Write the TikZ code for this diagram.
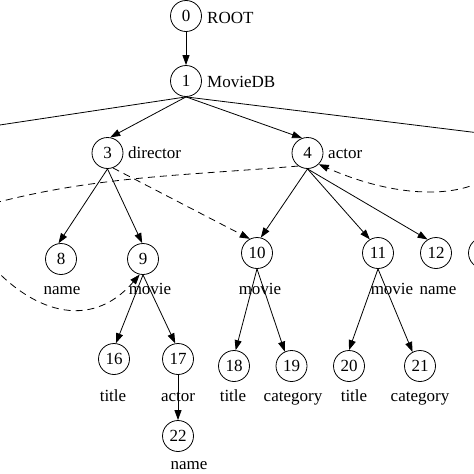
\documentclass[tikz,border=0pt]{standalone}
\usepackage{fontspec}
\setmainfont{Liberation Serif}
\usetikzlibrary{arrows.meta}

\begin{document}
\begin{tikzpicture}[x=1pt,y=-1pt,
        vtx/.style={circle,draw,line width=0.8pt,minimum size=31pt,inner sep=0pt,font=\fontsize{17}{20}\selectfont},
        lbl/.style={inner sep=0pt,font=\fontsize{17}{20}\selectfont},
        link/.style={line width=0.8pt,-{Stealth[length=10pt,width=7pt,inset=0pt]}},
        stub/.style={line width=0.8pt},
        idref/.style={link,dash pattern=on 7pt off 5pt}]
    \useasboundingbox (0,0) rectangle (474,474);
    \clip (0,0) rectangle (474,474);

    % element nodes
    \node[vtx] (n0)  at (186,16)  {0};
    \node[vtx] (n1)  at (186,81)  {1};
    \node[vtx] (n3)  at (107.5,153) {3};
    \node[vtx] (n4)  at (307.5,153) {4};
    \node[vtx] (n8)  at (61,259)  {8};
    \node[vtx] (n9)  at (143,259) {9};
    \node[vtx] (n10) at (257,253) {10};
    \node[vtx] (n11) at (378,253) {11};
    \node[vtx] (n12) at (436,253) {12};
    \node[vtx] (n13) at (484,253) {};
    \node[vtx] (n16) at (114,359) {16};
    \node[vtx] (n17) at (178,359) {17};
    \node[vtx] (n18) at (234,366) {18};
    \node[vtx] (n19) at (291.5,366) {19};
    \node[vtx] (n20) at (349,366) {20};
    \node[vtx] (n21) at (420,366) {21};
    \node[vtx] (n22) at (178,436) {22};

    % tag names
    \node[lbl,anchor=base west] (t0) at (207,23.5)  {ROOT};
    \node[lbl,anchor=base west] (t1) at (207,87.5)  {MovieDB};
    \node[lbl,anchor=base west] (t3) at (128,158)   {director};
    \node[lbl,anchor=base west] (t4) at (328,158)   {actor};
    \node[lbl,anchor=base] (t8)  at (62,294)  {name};
    \node[lbl,anchor=base] (t9)  at (150,294) {movie};
    \node[lbl,anchor=base] (t10) at (260,294) {movie};
    \node[lbl,anchor=base] (t11) at (392,294) {movie};
    \node[lbl,anchor=base] (t12) at (438,294) {name};
    \node[lbl,anchor=base] (t16) at (113,401) {title};
    \node[lbl,anchor=base] (t17) at (178,401) {actor};
    \node[lbl,anchor=base] (t18) at (233,401) {title};
    \node[lbl,anchor=base] (t19) at (293,401) {category};
    \node[lbl,anchor=base] (t20) at (354,401) {title};
    \node[lbl,anchor=base] (t21) at (420,401) {category};
    \node[lbl,anchor=base] (t22) at (189,469.5) {name};

    \coordinate (offL) at (-40,131);
    \coordinate (offR) at (520,138);

    % tree edges
    \draw[link] (n0) -- (n1);
    \draw[stub] (n1.south) -- (offL);
    \draw[stub] (n1.south) -- (offR);
    \draw[link] (n1.south) -- (n3.80);
    \draw[link] (n1.south) -- (n4.110);
    \draw[link] (n3.south) -- (n8.99);
    \draw[link] (n3.south) -- (n9.93);
    \draw[link] (n4.south) -- (n10.76);
    \draw[link] (n4.south) -- (n11.121);
    \draw[link] (n4.south) -- (n12.122);
    \draw[link] (n9.south) -- (n16.83);
    \draw[link] (n9.south) -- (n17.100);
    \draw[link] (n10.south) -- (n18.84);
    \draw[link] (n10.south) -- (n19.115);
    \draw[link] (n11.south) -- (n20.90);
    \draw[link] (n11.south) -- (n21.118);
    \draw[link] (n17.south) -- (n22.north);

    % references
    \draw[idref] (n3.-70) -- (n10.117);
    \draw[idref,-] (n4.235) .. controls (180,176) and (90,176) .. (-20,207);
    \draw[idref] (500,168) .. controls (470,200) and (400,200) .. (n4.-45);
    \draw[idref] (-15,258) .. controls (30,312) and (90,332) .. (n9.-102);
\end{tikzpicture}
\end{document}
